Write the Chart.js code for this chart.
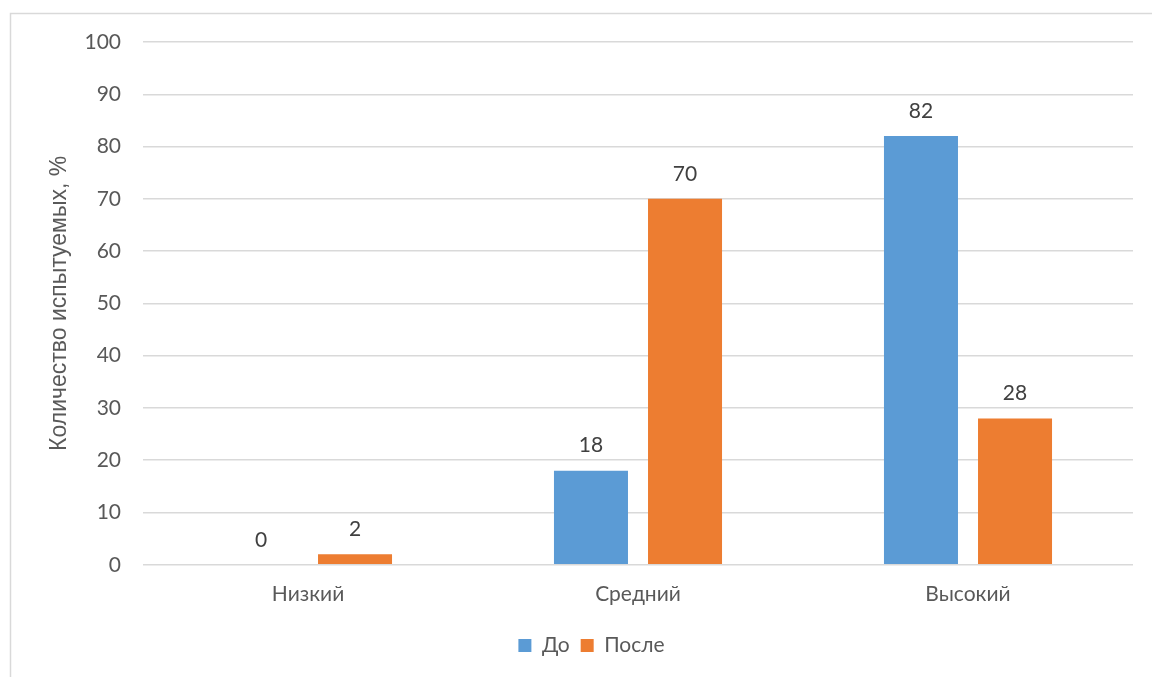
<!DOCTYPE html>
<html>
<head>
<meta charset="utf-8">
<script src="https://cdn.jsdelivr.net/npm/chart.js@4/dist/chart.umd.min.js"></script>
<style>
  html, body { margin: 0; padding: 0; background: #fff; }
  #wrap { position: relative; width: 1152px; height: 677px; }
</style>
</head>
<body>
<div id="wrap"><canvas id="chart" width="1152" height="677"></canvas></div>
<script>
// Уровни и доли испытуемых (%) до и после
const categories = ['Низкий', 'Средний', 'Высокий'];
const beforeValues = [0, 18, 82];
const afterValues = [2, 70, 28];
const seriesNames = ['До', 'После'];
const yTicks = { min: 0, max: 100, step: 10 };

const FONT = 'Lato, "Liberation Sans", sans-serif';
const TITLE_FONT = '"Liberation Sans", Arial, sans-serif';
const TEXT = '#595959';
const GRID = '#d9d9d9';

// Рамка области диаграммы (левая и верхняя линии)
const framePlugin = {
  id: 'frame',
  beforeDraw(chart) {
    const ctx = chart.ctx;
    ctx.save();
    ctx.strokeStyle = GRID;
    ctx.lineWidth = 1.5;
    ctx.beginPath();
    ctx.moveTo(10.5, chart.height);
    ctx.lineTo(10.5, 13.5);
    ctx.lineTo(chart.width, 13.5);
    ctx.stroke();
    ctx.restore();
  }
};

// Подписи значений над столбцами
const valueLabels = {
  id: 'valueLabels',
  afterDatasetsDraw(chart) {
    const ctx = chart.ctx;
    ctx.save();
    ctx.font = '21px ' + FONT;
    ctx.fillStyle = '#404040';
    ctx.textAlign = 'center';
    ctx.textBaseline = 'middle';
    chart.data.datasets.forEach((ds, i) => {
      const meta = chart.getDatasetMeta(i);
      meta.data.forEach((bar, j) => {
        ctx.fillText(String(ds.data[j]), bar.x, bar.y - 25);
      });
    });
    ctx.restore();
  }
};

new Chart(document.getElementById('chart'), {
  type: 'bar',
  data: {
    labels: categories,
    datasets: [
      { label: seriesNames[0], data: beforeValues, backgroundColor: '#5B9BD5' },
      { label: seriesNames[1], data: afterValues, backgroundColor: '#ED7D31' }
    ]
  },
  options: {
    responsive: false,
    animation: false,
    devicePixelRatio: 1,
    categoryPercentage: 0.57,
    barPercentage: 0.787,
    layout: { padding: { top: 42, right: 19, left: 50, bottom: 11 } },
    plugins: {
      legend: {
        position: 'bottom',
        labels: {
          boxWidth: 13, boxHeight: 13, padding: 11,
          color: TEXT, font: { family: FONT, size: 21 }
        }
      },
      tooltip: { enabled: false }
    },
    scales: {
      x: {
        grid: { display: false, drawTicks: false },
        border: { display: false },
        ticks: { color: TEXT, font: { family: FONT, size: 21 }, padding: 17 }
      },
      y: {
        min: yTicks.min, max: yTicks.max,
        grid: { color: GRID, lineWidth: 1.5, drawTicks: false },
        border: { display: false },
        ticks: { stepSize: yTicks.step, color: TEXT, font: { family: FONT, size: 21 }, padding: 22 },
        title: {
          display: true, text: 'Количество испытуемых, %',
          color: TEXT, font: { family: TITLE_FONT, size: 23 },
          padding: { top: -4, bottom: 0 }
        },
        afterFit(scale) { scale.width = 93; }
      }
    }
  },
  plugins: [framePlugin, valueLabels]
});
</script>
</body>
</html>
